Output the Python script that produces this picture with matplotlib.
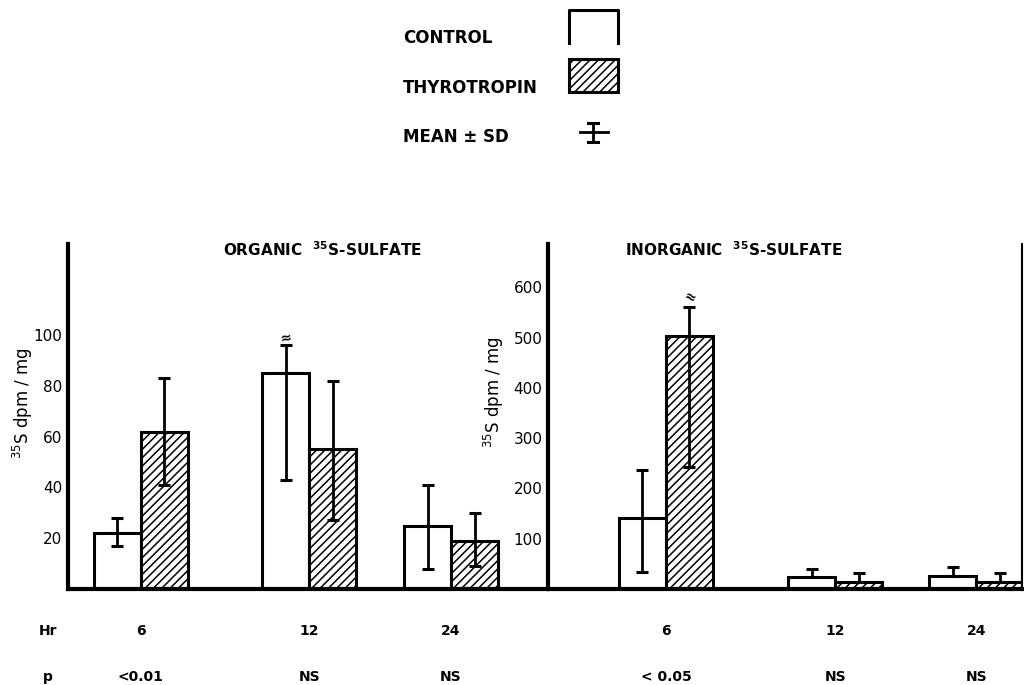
import numpy as np
import matplotlib.pyplot as plt
from matplotlib.patches import Rectangle
from matplotlib.lines import Line2D

plt.rcParams['font.family'] = 'DejaVu Sans'
plt.rcParams['hatch.linewidth'] = 1.1
plt.rcParams['hatch.color'] = 'black'

hours = ['6', '12', '24']

# organic 35S-sulfate (dpm/mg): mean, lower and upper end of the SD bar
org_control = [22, 85, 25]
org_control_lo = [17, 43, 8]
org_control_hi = [28, 96, 41]
org_thyro = [62, 55, 19]
org_thyro_lo = [41, 27, 9]
org_thyro_hi = [83, 82, 30]
org_p = ['<0.01', 'NS', 'NS']
org_ticks = [20, 40, 60, 80, 100]

# inorganic 35S-sulfate (dpm/mg)
inorg_control = [141, 24, 26]
inorg_control_lo = [34, 24, 26]
inorg_control_hi = [237, 40, 44]
inorg_thyro = [503, 14, 14]
inorg_thyro_lo = [243, 14, 14]
inorg_thyro_hi = [561, 32, 32]
inorg_p = ['< 0.05', 'NS', 'NS']
inorg_ticks = [100, 200, 300, 400, 500, 600]

W, H = 1024, 685
fig = plt.figure(figsize=(W / 100, H / 100), dpi=100)

# layout (pixels), bar width = 1 unit of 47 px
bw_px = 47.0
ax1 = fig.add_axes([68 / W, (H - 589) / H, 480 / W, 345 / H])
ax2 = fig.add_axes([548 / W, (H - 589) / H, 474 / W, 345 / H])
centers1 = np.array([1.55, 5.13, 8.15])
centers2 = np.array([2.51, 6.11, 9.11])


def panel(ax, centers, ctrl, c_lo, c_hi, thy, t_lo, t_hi, ticks, ymax, width_px):
    ctrl, c_lo, c_hi = map(np.array, (ctrl, c_lo, c_hi))
    thy, t_lo, t_hi = map(np.array, (thy, t_lo, t_hi))
    ax.bar(centers - 0.5, ctrl, 1, color='white', edgecolor='black', lw=2.2, zorder=2)
    ax.bar(centers + 0.5, thy, 1, color='white', edgecolor='black', hatch='////',
           lw=2.2, zorder=2)
    ax.errorbar(centers - 0.5, ctrl, yerr=[ctrl - c_lo, c_hi - ctrl], fmt='none',
                ecolor='black', elinewidth=2.0, capsize=4.3, capthick=2.2, zorder=3)
    ax.errorbar(centers + 0.5, thy, yerr=[thy - t_lo, t_hi - thy], fmt='none',
                ecolor='black', elinewidth=2.0, capsize=4.3, capthick=2.2, zorder=3)
    ax.set_xlim(0, width_px / bw_px)
    ax.set_ylim(0, ymax)
    ax.set_xticks([])
    ax.set_yticks(ticks)
    ax.set_yticklabels([str(t) for t in ticks])
    ax.tick_params(axis='y', length=0, pad=4, labelsize=11)
    for s in ['top', 'right']:
        ax.spines[s].set_visible(False)
    ax.spines['left'].set_linewidth(3)
    ax.spines['bottom'].set_linewidth(3)
    ax.patch.set_alpha(0)


panel(ax1, centers1, org_control, org_control_lo, org_control_hi,
      org_thyro, org_thyro_lo, org_thyro_hi, org_ticks, 345 / 2.54, 480)
panel(ax2, centers2, inorg_control, inorg_control_lo, inorg_control_hi,
      inorg_thyro, inorg_thyro_lo, inorg_thyro_hi, inorg_ticks, 345 / 0.503, 474)
ax2.spines['right'].set_visible(True)
ax2.spines['right'].set_linewidth(1.5)

# break marks on truncated SD bars
ax1.annotate('≈', xy=(centers1[1] - 0.5, org_control_hi[1]), xytext=(0, 0),
             textcoords='offset points', ha='center', va='bottom', fontsize=10,
             fontweight='bold', rotation=10)
ax2.annotate('≈', xy=(centers2[0] + 0.5, inorg_thyro_hi[0]), xytext=(0, 1),
             textcoords='offset points', ha='center', va='bottom', fontsize=10,
             fontweight='bold', rotation=-25)

ylab = r'$^{35}$S dpm / mg'
ax1.set_ylabel(ylab, fontsize=12)
ax1.yaxis.set_label_coords(-33 / 480, 0.54)
ax2.set_ylabel(ylab, fontsize=12)
ax2.yaxis.set_label_coords(-42 / 474, 0.57)

ax1.text(0.53, 0.983, r'ORGANIC  $^{\mathbf{35}}$S-SULFATE', transform=ax1.transAxes,
         ha='center', va='center', fontsize=11, fontweight='bold')
ax2.text(0.392, 0.983, r'INORGANIC  $^{\mathbf{35}}$S-SULFATE', transform=ax2.transAxes,
         ha='center', va='center', fontsize=11, fontweight='bold')

# Hr and p rows
fig.text(48 / W, 1 - 631 / H, 'Hr', ha='center', va='center', fontsize=10, fontweight='bold')
fig.text(48 / W, 1 - 677 / H, 'p', ha='center', va='center', fontsize=10, fontweight='bold')
for ax, centers, pv in [(ax1, centers1, org_p), (ax2, centers2, inorg_p)]:
    for c, h, p in zip(centers, hours, pv):
        ax.text(c, -42 / 345, h, transform=ax.get_xaxis_transform(), ha='center',
                va='center', fontsize=10, fontweight='bold')
        ax.text(c, -88 / 345, p, transform=ax.get_xaxis_transform(), ha='center',
                va='center', fontsize=10, fontweight='bold')

# legend at the top
def fx(x):
    return x / W


def fy(y):
    return 1 - y / H


lab = dict(ha='left', va='center', fontsize=12, fontweight='bold')
fig.text(fx(403), fy(38), 'CONTROL', **lab)
fig.text(fx(403), fy(88), 'THYROTROPIN', **lab)
fig.text(fx(403), fy(137), 'MEAN ± SD', **lab)
fig.add_artist(Line2D([fx(569), fx(569), fx(618), fx(618)], [fy(43), fy(10), fy(10), fy(43)],
                      transform=fig.transFigure, color='black', lw=2.2))
fig.add_artist(Rectangle((fx(569), fy(92)), 49 / W, 33 / H, transform=fig.transFigure,
                         facecolor='white', edgecolor='black', hatch='////', lw=2.2))
fig.add_artist(Line2D([fx(593), fx(593)], [fy(123), fy(142)], transform=fig.transFigure,
                      color='black', lw=2.0))
for yy in [123, 142]:
    fig.add_artist(Line2D([fx(588), fx(598)], [fy(yy), fy(yy)], transform=fig.transFigure,
                          color='black', lw=2.2))
fig.add_artist(Line2D([fx(580), fx(608)], [fy(132), fy(132)], transform=fig.transFigure,
                      color='black', lw=2.0))

fig.savefig('out.png', dpi=100)
